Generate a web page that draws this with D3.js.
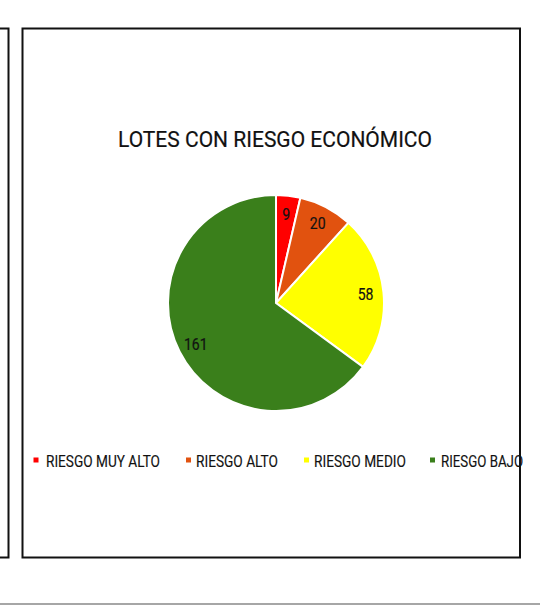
<!DOCTYPE html>
<html>
<head>
<meta charset="utf-8">
<script src="https://cdn.jsdelivr.net/npm/d3@7"></script>
<style>
	body { margin: 0; background: #fff; }
	svg { display: block; }
	text { font-family: "Roboto", sans-serif; }
</style>
</head>
<body>
<svg id="chart" width="540" height="605"></svg>
<script>
const CATEGORIES = ['RIESGO MUY ALTO', 'RIESGO ALTO', 'RIESGO MEDIO', 'RIESGO BAJO'];
const VALUES = [9, 20, 58, 161];
const COLORS = ['#ff0000', '#e1520f', '#ffff00', '#3a7f1b'];
const TITLE = 'LOTES CON RIESGO ECONÓMICO';

const svg = d3.select('#chart');

// frames: the edge of the neighbouring chart and this one
svg.append('rect')
	.attr('x', -20).attr('y', 28.5)
	.attr('width', 28.5).attr('height', 529)
	.attr('fill', 'none').attr('stroke', '#111').attr('stroke-width', 2);
svg.append('rect')
	.attr('x', 22.5).attr('y', 28.5)
	.attr('width', 497.5).attr('height', 529)
	.attr('fill', 'none').attr('stroke', '#111').attr('stroke-width', 2);
svg.append('line')
	.attr('x1', 0).attr('x2', 540)
	.attr('y1', 604).attr('y2', 604)
	.attr('stroke', '#888').attr('stroke-width', 1.5);

// narrow look: squeeze text to the measured widths
svg.append('text')
	.attr('x', 118).attr('y', 147)
	.attr('font-size', 21.5)
	.attr('textLength', 314)
	.attr('lengthAdjust', 'spacingAndGlyphs')
	.attr('fill', '#111')
	.attr('stroke', '#111').attr('stroke-width', 0.2)
	.text(TITLE);

const data = CATEGORIES.map((c, i) => ({ name: c, value: VALUES[i], color: COLORS[i] }));

const pie = d3.pie().value(d => d.value).sort(null);
const arc = d3.arc().innerRadius(0).outerRadius(108);
const labelArc = d3.arc().innerRadius(90).outerRadius(90);

const g = svg.append('g').attr('transform', 'translate(276,303)');
const arcs = pie(data);

g.selectAll('path')
	.data(arcs)
	.enter()
	.append('path')
		.attr('d', arc)
		.attr('fill', d => d.data.color)
		.attr('stroke', '#fff')
		.attr('stroke-width', 2);

g.selectAll('text')
	.data(arcs)
	.enter()
	.append('text')
		.attr('transform', d => 'translate(' + labelArc.centroid(d) + ') scale(0.85,1)')
		.attr('text-anchor', 'middle')
		.attr('dy', '0.36em')
		.attr('font-size', 16.5)
		.attr('fill', '#111')
		.attr('stroke', '#111').attr('stroke-width', 0.2)
		.text(d => d.data.value);

// legend
const squareX = [33.5, 186, 304, 430];
const textX = [46, 196, 314, 441];
const textW = [114, 82, 92, 82];
const legend = svg.append('g')
	.selectAll('g')
	.data(data)
	.enter()
	.append('g');
legend.append('rect')
	.attr('x', (d, i) => squareX[i]).attr('y', 457.5)
	.attr('width', 5).attr('height', 5)
	.attr('fill', d => d.color);
legend.append('text')
	.attr('x', (d, i) => textX[i]).attr('y', 466.5)
	.attr('font-size', 16)
	.attr('textLength', (d, i) => textW[i])
	.attr('lengthAdjust', 'spacingAndGlyphs')
	.attr('fill', '#111')
	.attr('stroke', '#111').attr('stroke-width', 0.15)
	.text(d => d.name);
</script>
</body>
</html>
